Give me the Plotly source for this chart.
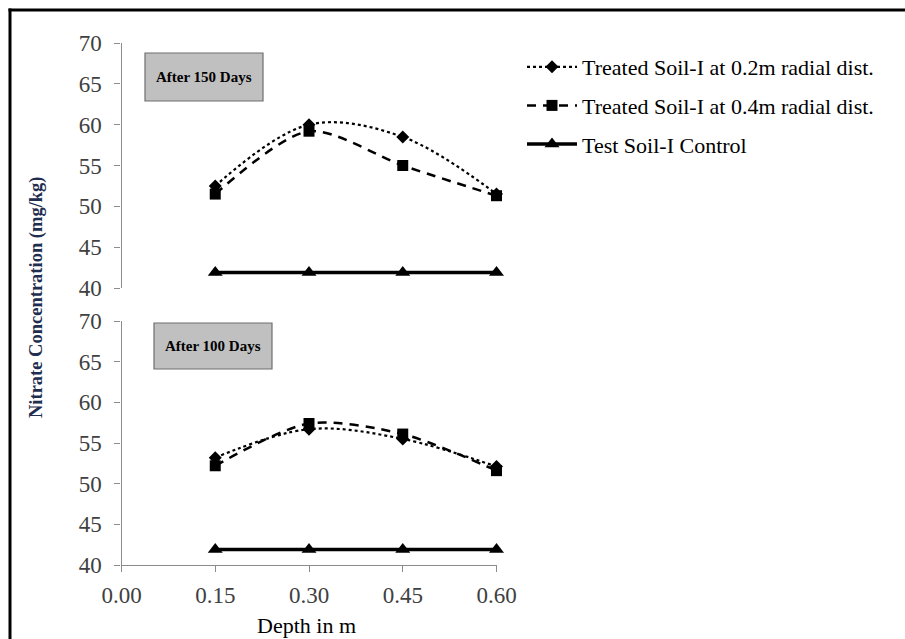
import plotly.graph_objects as go

W, H = 905, 639

depth = [0.15, 0.30, 0.45, 0.60]

# After 150 days (top panel)
t150_02 = [52.5, 60.0, 58.5, 51.5]
t150_04 = [51.5, 59.2, 55.0, 51.3]
t150_ctrl = [41.9, 41.9, 41.9, 41.9]

# After 100 days (bottom panel)
t100_02 = [53.2, 56.7, 55.5, 52.1]
t100_04 = [52.2, 57.4, 56.1, 51.6]
t100_ctrl = [41.9, 41.9, 41.9, 41.9]

names = ["Treated Soil-I at 0.2m radial dist.",
         "Treated Soil-I at 0.4m radial dist.",
         "Test Soil-I Control"]
panel_titles = ["After 150 Days", "After 100 Days"]

y_ticks = [40, 45, 50, 55, 60, 65, 70]
x_ticks = [0.00, 0.15, 0.30, 0.45, 0.60]


def px(x):
    return x / W


def py(y):
    return 1 - y / H


SERIF = "Liberation Serif, Times New Roman, serif"

styles = [
    dict(line=dict(color="black", width=2.2, dash="dot", shape="spline", smoothing=1.0),
         marker=dict(symbol="diamond", size=10, color="black")),
    dict(line=dict(color="black", width=2.5, dash="9px,7px", shape="spline", smoothing=0.8),
         marker=dict(symbol="square", size=11, color="black")),
    dict(line=dict(color="black", width=3.5),
         marker=dict(symbol="triangle-up", size=13, color="black")),
]

fig = go.Figure()

for i, ys in enumerate([t150_02, t150_04, t150_ctrl]):
    fig.add_trace(go.Scatter(x=depth, y=ys, mode="lines+markers", name=names[i],
                             yaxis="y2", xaxis="x", cliponaxis=False,
                             legendgroup=f"g{i}", showlegend=True, **styles[i]))
for i, ys in enumerate([t100_02, t100_04, t100_ctrl]):
    fig.add_trace(go.Scatter(x=depth, y=ys, mode="lines+markers", name=names[i],
                             yaxis="y", xaxis="x", cliponaxis=False,
                             legendgroup=f"g{i}", showlegend=False, **styles[i]))

axis_col = "#8c8c8c"
tick_font = dict(family=SERIF, size=23, color="#404040")

yax = dict(range=[40, 70], tickvals=y_ticks, showline=True, linecolor=axis_col, linewidth=1.3,
           ticks="outside", ticklen=6, tickcolor=axis_col, showgrid=False, zeroline=False,
           tickfont=tick_font, ticklabelstandoff=8, fixedrange=True)

fig.update_layout(
    width=W, height=H,
    margin=dict(l=0, r=0, t=0, b=0, autoexpand=False),
    paper_bgcolor="white", plot_bgcolor="white",
    showlegend=True,
    xaxis=dict(domain=[px(121.5), px(496.5)], range=[0, 0.6], tickvals=x_ticks,
               tickformat=".2f", showline=True, linecolor=axis_col, linewidth=1.3,
               ticks="outside", ticklen=6, tickcolor=axis_col, showgrid=False,
               zeroline=False, tickfont=tick_font, ticklabelstandoff=3, anchor="y",
               fixedrange=True),
    yaxis=dict(domain=[py(565), py(321)], anchor="x", **yax),
    yaxis2=dict(domain=[py(288), py(43)], anchor="x", **yax),
    legend=dict(x=px(522), y=py(46), xanchor="left", yanchor="top",
                font=dict(family=SERIF, size=22, color="black"),
                bgcolor="rgba(0,0,0,0)", traceorder="grouped", tracegroupgap=7,
                itemwidth=50),
)

# outer frame (top and left edges)
fig.add_shape(type="line", xref="paper", yref="paper", x0=px(8.5), x1=1.0, y0=py(10), y1=py(10),
              line=dict(color="black", width=3))
fig.add_shape(type="line", xref="paper", yref="paper", x0=px(10), x1=px(10), y0=py(8.5), y1=0,
              line=dict(color="black", width=3))

# panel label boxes
boxes = [(145, 53, 263, 101), (154, 323, 272, 369)]
for (x0, y0, x1, y1), title in zip(boxes, panel_titles):
    fig.add_shape(type="rect", xref="paper", yref="paper",
                  x0=px(x0), x1=px(x1), y0=py(y1), y1=py(y0),
                  fillcolor="#c0c0c0", line=dict(color="#6e6e6e", width=1.2))
    fig.add_annotation(x=px((x0 + x1) / 2), y=py((y0 + y1) / 2), xref="paper", yref="paper",
                       xanchor="center", yanchor="middle",
                       text=f"<b>{title}</b>", showarrow=False,
                       font=dict(family=SERIF, size=15, color="black"))

# axis titles
fig.add_annotation(x=px(36), y=py(298), xref="paper", yref="paper",
                   xanchor="center", yanchor="middle",
                   text="<b>Nitrate Concentration (mg/kg)</b>", textangle=-90, showarrow=False,
                   font=dict(family=SERIF, size=18.5, color="#1f2d4f"))
fig.add_annotation(x=px(306), y=py(625), xref="paper", yref="paper",
                   xanchor="center", yanchor="middle",
                   text="Depth in m", showarrow=False,
                   font=dict(family=SERIF, size=22, color="black"))

fig.write_html("out.html",
               config={"displayModeBar": False},
               post_script="document.body.style.margin='0px';document.body.style.overflow='hidden';")
